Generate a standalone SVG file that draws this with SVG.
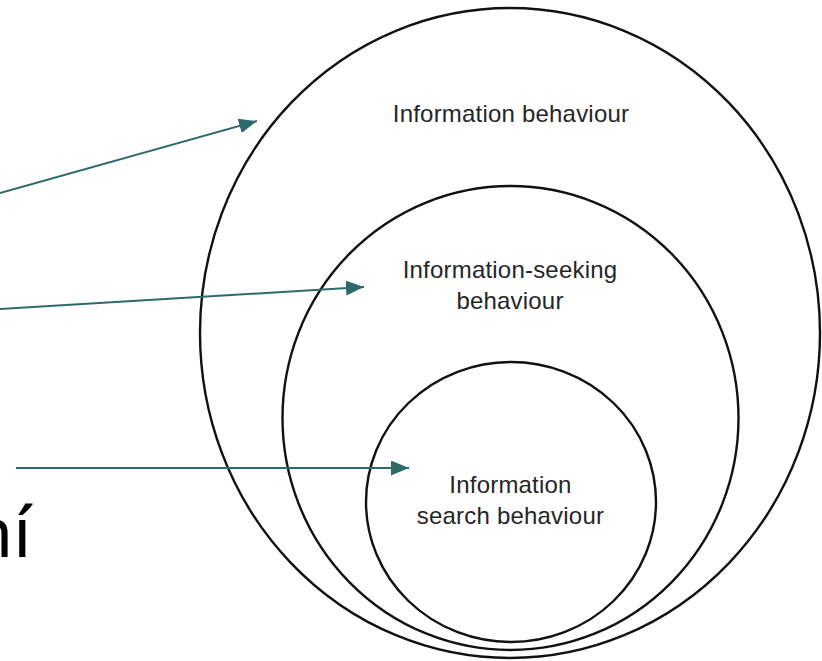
<svg xmlns="http://www.w3.org/2000/svg" width="822" height="661" viewBox="0 0 822 661">
<defs>
<style>
.ring{fill:none;stroke:#111;stroke-width:2.4}
.lbl{font-family:"Liberation Sans",Arial,sans-serif;font-size:24px;fill:#262626;text-anchor:middle;letter-spacing:0.2px}
.conn{stroke:#2e6a69;stroke-width:2;fill:none}
.big{font-family:"Noto Sans","Open Sans",sans-serif;font-size:70px;fill:#000}
</style>
<marker id="ah" markerUnits="userSpaceOnUse" markerWidth="20" markerHeight="16" refX="18" refY="7.5" orient="auto">
<path d="M0,0 L18,7.5 L0,15 z" fill="#2e6a69"/>
</marker>
</defs>
<rect width="822" height="661" fill="#fff"/>
<g id="outer">
<ellipse class="ring" cx="510" cy="333" rx="310" ry="325"/>
<text class="lbl" x="511" y="122">Information behaviour</text>
</g>
<g id="middle">
<ellipse class="ring" cx="510.5" cy="418" rx="228" ry="232"/>
<text class="lbl" x="510" y="278">Information-seeking</text>
<text class="lbl" x="510" y="309">behaviour</text>
</g>
<g id="inner">
<ellipse class="ring" cx="511" cy="502" rx="145" ry="140"/>
<text class="lbl" x="510.5" y="493">Information</text>
<text class="lbl" x="510.5" y="524">search behaviour</text>
</g>
<g id="connectors">
<line class="conn" x1="0" y1="193" x2="257" y2="121" marker-end="url(#ah)"/>
<line class="conn" x1="0" y1="309" x2="364" y2="287" marker-end="url(#ah)"/>
<line class="conn" x1="16" y1="468" x2="409" y2="468" marker-end="url(#ah)"/>
</g>
<text class="big" x="-30" y="557">ní</text>
</svg>
